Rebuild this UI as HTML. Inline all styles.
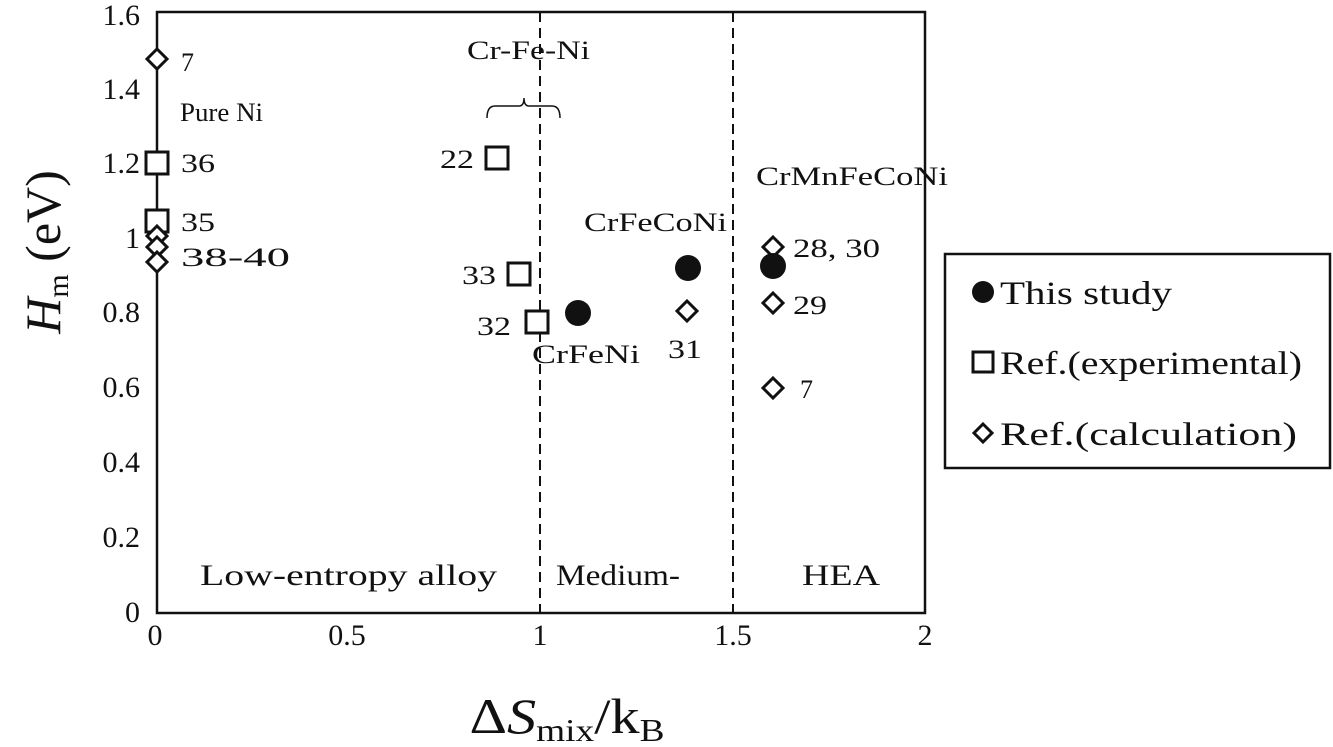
<!DOCTYPE html>
<html><head><meta charset="utf-8"><style>
html,body{margin:0;padding:0;background:#fff;}
svg{display:block;}
text{font-family:"Liberation Serif",serif;fill:#111;}
</style></head><body>
<svg width="1333" height="747" viewBox="0 0 1333 747" xmlns="http://www.w3.org/2000/svg">
<g stroke="#111" fill="none">
<rect x="157" y="12" width="768" height="601" stroke-width="2.5"/>
<line x1="540" y1="12" x2="540" y2="613" stroke-width="2" stroke-dasharray="10,6"/>
<line x1="733" y1="12" x2="733" y2="613" stroke-width="2" stroke-dasharray="10,6"/>
<path d="M487,118 Q487,106 495,106 L519,106 Q524,106 524,98 Q524,106 529,106 L552,106 Q560,106 560,118" stroke-width="1.5"/>
<rect x="945" y="254" width="385" height="214" stroke-width="2.5"/>
</g>
<g font-size="30" text-anchor="end">
<text x="140" y="25">1.6</text><text x="140" y="99">1.4</text><text x="140" y="173">1.2</text>
<text x="140" y="248">1</text><text x="140" y="322">0.8</text><text x="140" y="397">0.6</text>
<text x="140" y="472">0.4</text><text x="140" y="547">0.2</text><text x="140" y="622">0</text>
</g>
<g font-size="30" text-anchor="middle">
<text x="155" y="645">0</text><text x="347" y="645">0.5</text><text x="540" y="645">1</text>
<text x="733" y="645">1.5</text><text x="925" y="645">2</text>
</g>
<text x="567" y="733" font-size="50" text-anchor="middle" textLength="195" lengthAdjust="spacingAndGlyphs">Δ<tspan font-style="italic">S</tspan><tspan font-size="32" dy="8">mix</tspan><tspan dy="-8">/k</tspan><tspan font-size="32" dy="8">B</tspan></text>
<text transform="translate(60,252) rotate(-90)" font-size="50" text-anchor="middle"><tspan font-style="italic">H</tspan><tspan font-size="30" dy="8">m</tspan><tspan dy="-8"> (eV)</tspan></text>
<g font-size="30">
<text x="200" y="585" textLength="297" lengthAdjust="spacingAndGlyphs">Low-entropy alloy</text>
<text x="556" y="585" textLength="124" lengthAdjust="spacingAndGlyphs">Medium-</text>
<text x="802" y="585" textLength="78" lengthAdjust="spacingAndGlyphs">HEA</text>
</g>
<g font-size="26">
<text x="180" y="121" textLength="83" lengthAdjust="spacingAndGlyphs">Pure Ni</text>
<text x="467" y="59" textLength="123" lengthAdjust="spacingAndGlyphs">Cr-Fe-Ni</text>
<text x="584" y="231" textLength="143" lengthAdjust="spacingAndGlyphs">CrFeCoNi</text>
<text x="532" y="363" textLength="108" lengthAdjust="spacingAndGlyphs">CrFeNi</text>
<text x="756" y="185" textLength="192" lengthAdjust="spacingAndGlyphs">CrMnFeCoNi</text>
<text x="181" y="71">7</text>
<text x="181" y="172" textLength="34" lengthAdjust="spacingAndGlyphs">36</text>
<text x="181" y="231" textLength="34" lengthAdjust="spacingAndGlyphs">35</text>
<text x="181" y="266" textLength="109" lengthAdjust="spacingAndGlyphs">38-40</text>
<text x="440" y="168" textLength="34" lengthAdjust="spacingAndGlyphs">22</text>
<text x="462" y="284" textLength="34" lengthAdjust="spacingAndGlyphs">33</text>
<text x="477" y="335" textLength="34" lengthAdjust="spacingAndGlyphs">32</text>
<text x="668" y="358" textLength="34" lengthAdjust="spacingAndGlyphs">31</text>
<text x="793" y="257" textLength="87" lengthAdjust="spacingAndGlyphs">28, 30</text>
<text x="793" y="314" textLength="34" lengthAdjust="spacingAndGlyphs">29</text>
<text x="800" y="398">7</text>
</g>
<g fill="#fff" stroke="#111" stroke-width="3">
<rect x="146" y="152" width="22" height="22"/>
<rect x="146" y="210" width="22" height="22"/>
<rect x="486" y="147" width="22" height="22"/>
<rect x="508" y="263" width="22" height="22"/>
<rect x="526" y="311" width="22" height="22"/>
<path d="M157,49 l10,10 -10,10 -10,-10z"/>
<path d="M157,226 l10,10 -10,10 -10,-10z"/>
<path d="M157,237 l10,10 -10,10 -10,-10z"/>
<path d="M157,252 l10,10 -10,10 -10,-10z"/>
<path d="M687,301 l10,10 -10,10 -10,-10z"/>
<path d="M773,237 l10,10 -10,10 -10,-10z"/>
<path d="M773,293 l10,10 -10,10 -10,-10z"/>
<path d="M773,378 l10,10 -10,10 -10,-10z"/>
</g>
<g fill="#111">
<circle cx="578" cy="313" r="13"/>
<circle cx="688" cy="268" r="13"/>
<circle cx="773" cy="266" r="13"/>
</g>
<circle cx="983" cy="292" r="11" fill="#111"/>
<rect x="973" y="352" width="20" height="20" fill="#fff" stroke="#111" stroke-width="3"/>
<path d="M983,424 l9,9 -9,9 -9,-9z" fill="#fff" stroke="#111" stroke-width="3"/>
<g font-size="33">
<text x="1000" y="304" textLength="172" lengthAdjust="spacingAndGlyphs">This study</text>
<text x="1000" y="374" textLength="302" lengthAdjust="spacingAndGlyphs">Ref.(experimental)</text>
<text x="1000" y="445" textLength="297" lengthAdjust="spacingAndGlyphs">Ref.(calculation)</text>
</g>
</svg>
</body></html>
